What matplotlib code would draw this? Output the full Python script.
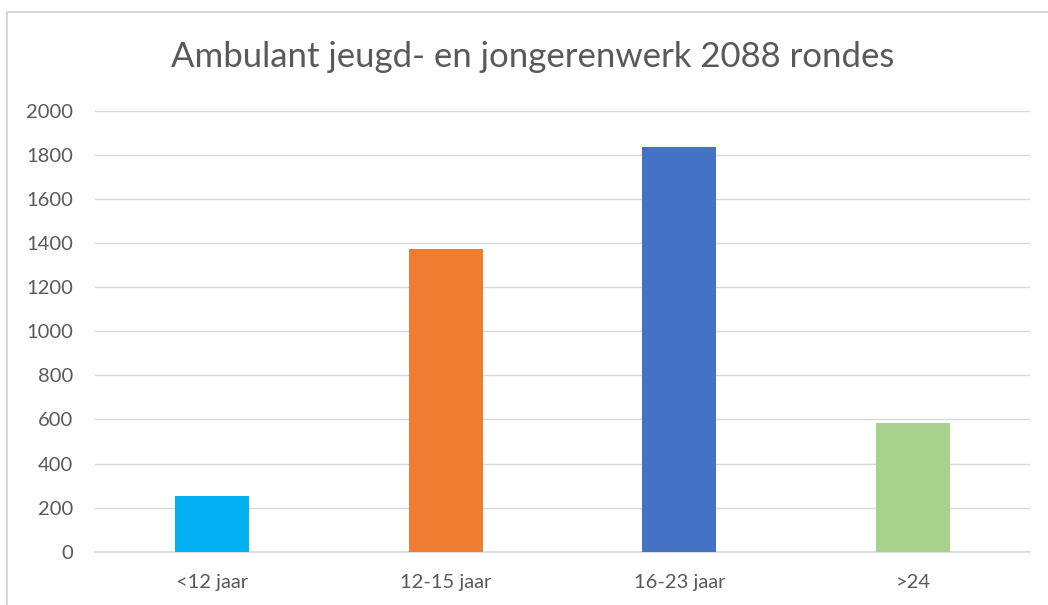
import matplotlib.pyplot as plt
from matplotlib.patches import Rectangle

categories = ['<12 jaar', '12-15 jaar', '16-23 jaar', '>24']
values = [254, 1374, 1837, 584]
colors = ['#00b0f0', '#ed7d31', '#4472c4', '#a9d18e']
yticks = [0, 200, 400, 600, 800, 1000, 1200, 1400, 1600, 1800, 2000]

plt.rcParams['font.family'] = ['Lato', 'DejaVu Sans']
grey = '#595959'

fig = plt.figure(figsize=(10.48, 6.05), dpi=100)
# chart frame (runs off the right and bottom edges in the original)
fig.patches.append(Rectangle((7 / 1048, -0.05), 1.1, 1 - 12 / 605 + 0.05,
                             transform=fig.transFigure, fill=False,
                             edgecolor='#d9d9d9', linewidth=1.5))

ax = fig.add_axes([95 / 1048, 1 - 551.7 / 605, (1030 - 95) / 1048, (551.7 - 111) / 605])
x = range(len(categories))
ax.bar(x, values, width=0.316, color=colors, zorder=3)

ax.set_xlim(-0.5, len(categories) - 0.5)
ax.set_ylim(0, 2000)
ax.set_yticks(yticks)
ax.set_xticks(list(x))
ax.set_xticklabels(categories, fontsize=14.5)
ax.yaxis.grid(True, color='#d9d9d9', linewidth=1.0, zorder=0)
for s in ['top', 'right', 'left']:
    ax.spines[s].set_visible(False)
ax.spines['bottom'].set_color('#d9d9d9')
ax.spines['bottom'].set_linewidth(1.2)
ax.tick_params(axis='both', length=0, labelcolor=grey)
ax.tick_params(axis='y', pad=16, labelsize=14.5)
ax.tick_params(axis='x', pad=16)

fig.text(533 / 1048, 1 - 57 / 605, 'Ambulant jeugd- en jongerenwerk 2088 rondes',
         ha='center', va='center', fontsize=25, color=grey)

fig.savefig('out.png', dpi=100)
